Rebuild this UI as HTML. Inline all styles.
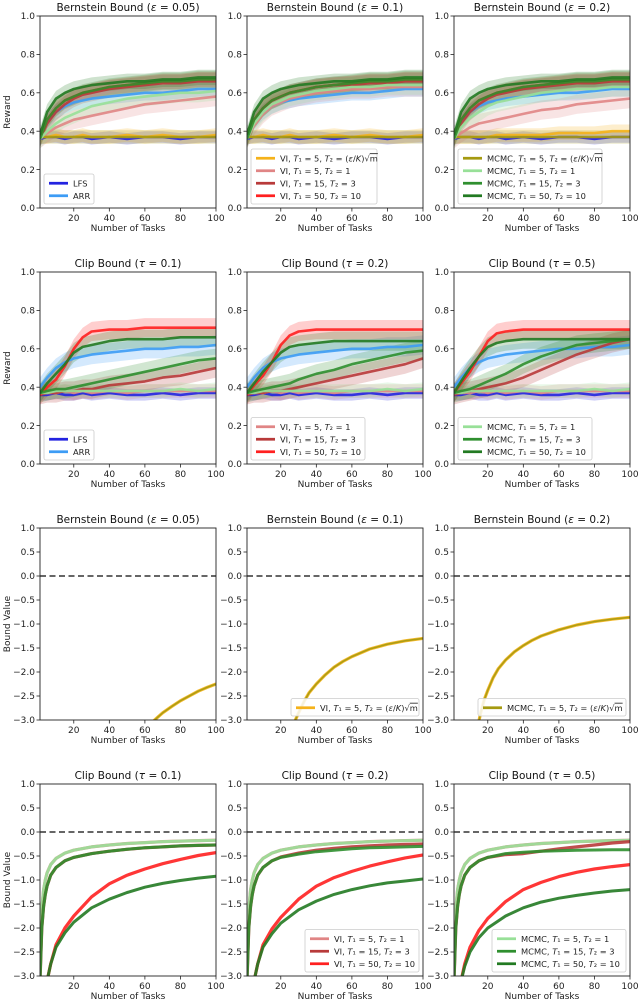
<!DOCTYPE html>
<html><head><meta charset="utf-8"><style>
html,body{margin:0;padding:0;background:#fff;width:640px;height:1005px;overflow:hidden}
svg{display:block;overflow:hidden;font-family:"DejaVu Sans","Liberation Sans",sans-serif}
</style></head><body>
<svg id="fig" width="640" height="1005" viewBox="0 0 640 1005" xmlns="http://www.w3.org/2000/svg"></svg>
<script>
// ---------- DATA ----------
const rewardX = [1,5,10,15,20,25,30,40,50,60,70,80,90,100];
const rewardTicks = [0,0.2,0.4,0.6,0.8,1.0];
const boundTicks = [-3,-2.5,-2,-1.5,-1,-0.5,0,0.5,1];
const xTicks = [20,40,60,80,100];
// Row 1: Bernstein reward
const b1_lfs  = [0.36,0.37,0.37,0.36,0.37,0.37,0.36,0.37,0.36,0.37,0.37,0.36,0.37,0.37];
const b1_arr  = [0.36,0.45,0.50,0.53,0.55,0.56,0.57,0.58,0.59,0.60,0.60,0.61,0.62,0.62];
const b1_vie  = [0.37,0.37,0.38,0.37,0.37,0.38,0.37,0.37,0.38,0.37,0.38,0.37,0.37,0.38];
const b1_vi5  = [0.36,0.39,0.42,0.44,0.46,0.47,0.48,0.50,0.52,0.54,0.55,0.56,0.57,0.58];
const b1_vi15 = [0.36,0.44,0.50,0.54,0.57,0.59,0.60,0.62,0.63,0.64,0.65,0.65,0.66,0.66];
const b1_vi50 = [0.36,0.46,0.52,0.56,0.58,0.60,0.61,0.63,0.64,0.65,0.66,0.66,0.67,0.67];
const b1_mce  = [0.37,0.37,0.37,0.37,0.37,0.37,0.37,0.37,0.37,0.37,0.37,0.37,0.37,0.37];
const b1_mc5  = [0.36,0.40,0.44,0.47,0.49,0.51,0.53,0.55,0.57,0.58,0.59,0.60,0.60,0.61];
const b1_mc15 = [0.36,0.46,0.52,0.56,0.58,0.60,0.61,0.63,0.64,0.65,0.66,0.66,0.67,0.67];
const b1_mc50 = [0.38,0.50,0.57,0.60,0.62,0.63,0.64,0.65,0.66,0.66,0.67,0.67,0.68,0.68];
const b2_vi5  = [0.36,0.43,0.49,0.53,0.55,0.57,0.58,0.60,0.61,0.62,0.62,0.63,0.63,0.63];
const b2_vi15 = [0.36,0.46,0.52,0.56,0.58,0.60,0.61,0.63,0.64,0.64,0.65,0.65,0.66,0.66];
const b2_mc5  = [0.36,0.44,0.50,0.54,0.56,0.58,0.59,0.61,0.62,0.63,0.63,0.64,0.64,0.64];
const b3_vie  = [0.37,0.37,0.37,0.37,0.37,0.38,0.38,0.38,0.38,0.39,0.39,0.39,0.40,0.40];
const b3_vi5  = [0.36,0.39,0.42,0.44,0.45,0.46,0.47,0.49,0.51,0.52,0.54,0.55,0.56,0.57];
const b3_mc5  = [0.36,0.42,0.47,0.50,0.53,0.55,0.56,0.58,0.60,0.61,0.62,0.62,0.63,0.63];
// Row 2: Clip reward
const c_lfs   = [0.36,0.36,0.37,0.36,0.36,0.37,0.36,0.37,0.36,0.36,0.37,0.36,0.37,0.37];
const c_arr   = [0.40,0.45,0.50,0.53,0.55,0.56,0.57,0.58,0.59,0.60,0.60,0.61,0.61,0.62];
const c_vi5   = [0.37,0.37,0.37,0.38,0.37,0.38,0.37,0.38,0.37,0.38,0.38,0.38,0.38,0.38];
const c_mc5   = [0.37,0.37,0.38,0.38,0.38,0.38,0.38,0.38,0.38,0.38,0.38,0.39,0.38,0.39];
const c1_vi15 = [0.36,0.37,0.37,0.38,0.38,0.39,0.39,0.41,0.42,0.43,0.45,0.46,0.48,0.50];
const c1_vi50 = [0.36,0.40,0.44,0.51,0.60,0.66,0.69,0.70,0.70,0.71,0.71,0.71,0.71,0.71];
const c1_mc15 = [0.37,0.38,0.39,0.39,0.40,0.41,0.42,0.44,0.46,0.48,0.50,0.52,0.54,0.55];
const c1_mc50 = [0.37,0.42,0.47,0.52,0.58,0.61,0.62,0.64,0.65,0.65,0.65,0.66,0.66,0.66];
const c2_vi15 = [0.36,0.37,0.37,0.38,0.38,0.39,0.40,0.42,0.44,0.46,0.48,0.50,0.52,0.55];
const c2_vi50 = [0.36,0.41,0.46,0.53,0.62,0.67,0.69,0.70,0.70,0.70,0.70,0.70,0.70,0.70];
const c2_mc15 = [0.37,0.38,0.39,0.40,0.41,0.42,0.44,0.47,0.49,0.52,0.54,0.56,0.58,0.59];
const c2_mc50 = [0.37,0.42,0.48,0.53,0.58,0.61,0.62,0.63,0.64,0.64,0.64,0.64,0.64,0.64];
const c3_vi15 = [0.36,0.37,0.38,0.39,0.40,0.41,0.42,0.45,0.49,0.53,0.57,0.60,0.63,0.65];
const c3_vi50 = [0.37,0.42,0.48,0.56,0.64,0.68,0.69,0.70,0.70,0.70,0.70,0.70,0.70,0.70];
const c3_mc15 = [0.37,0.38,0.39,0.41,0.43,0.45,0.47,0.52,0.56,0.59,0.62,0.63,0.64,0.65];
const c3_mc50 = [0.37,0.43,0.50,0.56,0.61,0.63,0.64,0.65,0.65,0.65,0.65,0.65,0.65,0.65];
// Row 3: Bernstein bound
const bb1_x = [64,67,70,75,80,85,90,95,100];
const bb1_y = [-3.05,-2.95,-2.85,-2.72,-2.6,-2.5,-2.4,-2.32,-2.25];
const bb2_x = [27,30,33,36,40,45,50,55,60,70,80,90,100];
const bb2_y = [-3.1,-2.85,-2.62,-2.43,-2.25,-2.06,-1.9,-1.78,-1.68,-1.52,-1.42,-1.35,-1.3];
const bb3_x = [14,16,18,20,23,26,30,35,40,45,50,60,70,80,90,100];
const bb3_y = [-3.2,-2.85,-2.58,-2.38,-2.12,-1.93,-1.75,-1.58,-1.45,-1.34,-1.25,-1.12,-1.02,-0.95,-0.9,-0.86];
// Row 4: Clip bound
const boundX = [1,2,3,4,5,7,10,15,20,30,40,50,60,70,80,90,100];
const cb_light = [-2.9,-1.6,-1.2,-1.0,-0.85,-0.68,-0.55,-0.44,-0.38,-0.31,-0.27,-0.24,-0.22,-0.20,-0.19,-0.18,-0.17];
const cb1_15 = [-3.1,-2.0,-1.55,-1.3,-1.12,-0.9,-0.74,-0.6,-0.53,-0.45,-0.4,-0.36,-0.33,-0.31,-0.29,-0.28,-0.27];
const cb1_r50 = [-6,-5,-4.2,-3.6,-3.1,-2.75,-2.35,-2.0,-1.75,-1.35,-1.08,-0.9,-0.77,-0.66,-0.57,-0.49,-0.43];
const cb1_g50 = [-6,-5,-4.2,-3.6,-3.1,-2.75,-2.4,-2.1,-1.88,-1.58,-1.4,-1.26,-1.15,-1.07,-1.01,-0.96,-0.92];
const cb2_vi15 = [-3.1,-2.0,-1.55,-1.3,-1.12,-0.9,-0.74,-0.6,-0.52,-0.44,-0.38,-0.34,-0.31,-0.29,-0.27,-0.26,-0.25];
const cb2_mc15 = [-3.1,-2.0,-1.55,-1.3,-1.12,-0.9,-0.74,-0.6,-0.53,-0.46,-0.41,-0.38,-0.35,-0.33,-0.32,-0.31,-0.30];
const cb2_r50 = [-6,-5,-4.2,-3.6,-3.1,-2.75,-2.35,-2.02,-1.78,-1.4,-1.13,-0.95,-0.82,-0.71,-0.62,-0.54,-0.48];
const cb2_g50 = [-6,-5,-4.2,-3.6,-3.1,-2.75,-2.4,-2.12,-1.9,-1.62,-1.44,-1.3,-1.2,-1.12,-1.06,-1.02,-0.98];
const cb3_vi15 = [-3.1,-2.0,-1.55,-1.3,-1.12,-0.9,-0.74,-0.6,-0.53,-0.47,-0.45,-0.4,-0.35,-0.31,-0.27,-0.23,-0.20];
const cb3_mc15 = [-3.1,-2.0,-1.55,-1.3,-1.12,-0.9,-0.74,-0.6,-0.53,-0.45,-0.42,-0.40,-0.39,-0.38,-0.375,-0.37,-0.37];
const cb3_r50 = [-6,-5,-4.2,-3.6,-3.1,-2.75,-2.4,-2.05,-1.8,-1.45,-1.2,-1.05,-0.93,-0.84,-0.77,-0.72,-0.68];
const cb3_g50 = [-6,-5,-4.2,-3.6,-3.1,-2.8,-2.5,-2.2,-2.0,-1.75,-1.58,-1.46,-1.38,-1.32,-1.27,-1.23,-1.2];

// ---------- STYLE ----------
const COL = {lfs:'#2323e0',arr:'#3d9cf5',vie:'#f5b21a',vi5:'#e08585',vi15:'#b83a3a',vi50:'#ff2020',mce:'#a59a10',mc5:'#98e098',mc15:'#2f8f2f',mc50:'#227a22'};
const T = (n)=>'<tspan font-style="italic">T</tspan>'+n;
const LAB = {
 lfs:'LFS', arr:'ARR',
 vie:'VI, '+T('₁')+' = 5, '+T('₂')+' = (<tspan font-style="italic">ε</tspan>/<tspan font-style="italic">K</tspan>)√<tspan text-decoration="overline">m</tspan>',
 vi5:'VI, '+T('₁')+' = 5, '+T('₂')+' = 1', vi15:'VI, '+T('₁')+' = 15, '+T('₂')+' = 3', vi50:'VI, '+T('₁')+' = 50, '+T('₂')+' = 10',
 mce:'MCMC, '+T('₁')+' = 5, '+T('₂')+' = (<tspan font-style="italic">ε</tspan>/<tspan font-style="italic">K</tspan>)√<tspan text-decoration="overline">m</tspan>',
 mc5:'MCMC, '+T('₁')+' = 5, '+T('₂')+' = 1', mc15:'MCMC, '+T('₁')+' = 15, '+T('₂')+' = 3', mc50:'MCMC, '+T('₁')+' = 50, '+T('₂')+' = 10'
};
const svg = document.getElementById('fig');
const NS='http://www.w3.org/2000/svg';
function mk(tag, attrs, parent){const e=document.createElementNS(NS,tag);for(const k in attrs)e.setAttribute(k,attrs[k]);(parent||svg).appendChild(e);return e;}
const colLeft=[40,247,454], AW=176, AH=192, rowTop=[16,272,528,784];
let clipId=0;

// trim a polyline to x-range where y >= ymin (interpolate crossing point)
function trimmed(xs,ys,ymin){
 const px=[],py=[];
 for(let i=0;i<xs.length;i++){
  if(ys[i]>=ymin){
   if(i>0 && ys[i-1]<ymin && px.length===0){
    const t=(ymin-ys[i-1])/(ys[i]-ys[i-1]);
    px.push(xs[i-1]+t*(xs[i]-xs[i-1]));py.push(ymin);
   }
   px.push(xs[i]);py.push(ys[i]);
  }
 }
 return [px,py];
}

function panel(r,c,opt){
 const x0=colLeft[c], y0=rowTop[r];
 const g=mk('g',{});
 
 
 const sx=v=>x0+(v-1)/99*AW;
 const sy=v=>y0+AH-(v-opt.ymin)/(opt.ymax-opt.ymin)*AH;
 const cid='clip'+(clipId++);
 const cp=mk('clipPath',{id:cid},g); mk('rect',{x:x0,y:y0,width:AW,height:AH},cp);
 const plot=mk('g',{'clip-path':'url(#'+cid+')'},g);
 
 
 if(opt.zero){const z=mk('line',{x1:x0,x2:x0+AW,y1:sy(0),y2:sy(0),stroke:'#333','stroke-width':1.5,'stroke-dasharray':'6,3.5'},plot);
  }
 opt.series.forEach(s=>{ if(!s.band) return;
  let d='';s.x.forEach((xv,i)=>{d+=(i?'L':'M')+sx(xv).toFixed(1)+','+sy(s.y[i]+s.band).toFixed(1);});
  for(let i=s.x.length-1;i>=0;i--) d+='L'+sx(s.x[i]).toFixed(1)+','+sy(s.y[i]-s.band).toFixed(1);
  const p=mk('path',{d:d+'Z',fill:COL[s.k],'fill-opacity':0.22,stroke:'none'},plot);
  
 });
 opt.series.forEach(s=>{
  const tr=trimmed(s.x,s.y,opt.ymin-0.05);
  let d='';tr[0].forEach((xv,i)=>{d+=(i?'L':'M')+sx(xv).toFixed(1)+','+sy(tr[1][i]).toFixed(1);});
  const p=mk('path',{d:d,fill:'none',stroke:COL[s.k],'stroke-width':s.w||2.6,'stroke-opacity':s.op||0.9,'stroke-linejoin':'round'},plot);
  
 });
 const fr=mk('rect',{x:x0,y:y0,width:AW,height:AH,fill:'none',stroke:'#222','stroke-width':0.9},g);
 
 xTicks.forEach(t=>{mk('line',{x1:sx(t),x2:sx(t),y1:y0+AH,y2:y0+AH+3.5,stroke:'#222','stroke-width':0.8},g);
  const tx=mk('text',{x:sx(t),y:y0+AH+13,'font-size':9,'text-anchor':'middle',fill:'#222'},g);tx.textContent=t;
  });
 opt.yt.forEach(t=>{mk('line',{x1:x0-3.5,x2:x0,y1:sy(t),y2:sy(t),stroke:'#222','stroke-width':0.8},g);
  const tx=mk('text',{x:x0-5,y:sy(t)+3.2,'font-size':9,'text-anchor':'end',fill:'#222'},g);
  tx.textContent=(t<0?'−':'')+Math.abs(t).toFixed(1);
  });
 const xl=mk('text',{x:x0+AW/2,y:y0+AH+23,'font-size':9,'text-anchor':'middle',fill:'#222'},g);xl.textContent='Number of Tasks';
 
 if(opt.ylabel){const yl=mk('text',{x:0,y:0,'font-size':9,'text-anchor':'middle',fill:'#222',transform:'translate(10,'+(y0+AH/2)+') rotate(-90)'},g);yl.textContent=opt.ylabel;
  }
 const ti=mk('text',{x:x0+AW/2,y:y0-5,'font-size':10.5,'text-anchor':'middle',fill:'#111'},g);ti.innerHTML=opt.title;
 
 if(opt.legend){
  const n=opt.legend.length, lh=12.5, w=opt.lw, h=n*lh+5;
  const lx=opt.lpos==='lr'?x0+AW-w-4:x0+4, ly=y0+AH-h-4;
  const lg=mk('g',{},g);
  mk('rect',{x:lx,y:ly,width:w,height:h,rx:2,fill:'#fff','fill-opacity':0.85,stroke:'#ccc','stroke-width':0.8},lg);
  opt.legend.forEach((k,i)=>{const yy=ly+3+lh*i+lh/2;
   const e=mk('g',{},lg);
   mk('line',{x1:lx+5,x2:lx+24,y1:yy,y2:yy,stroke:COL[k],'stroke-width':2.8},e);
   const t=mk('text',{x:lx+29,y:yy+3,'font-size':8.3,fill:'#222'},e);t.innerHTML=LAB[k];});
 }
}
const S=(k,y,band,x)=>({k:k,x:x||rewardX,y:y,band:band});
const RW={ymin:0,ymax:1,yt:rewardTicks};
const BD={ymin:-3,ymax:1,yt:boundTicks,zero:true};
const ttl=(a,sym,v)=>a+' (<tspan font-style="italic">'+sym+'</tspan> = '+v+')';
function row1(c,vie,vi5,vi15,mce,mc5,title,leg,lpos,lw){
 panel(0,c,Object.assign({title:title,ylabel:c===0?'Reward':null,legend:leg,lpos:lpos,lw:lw,series:[
  S('lfs',b1_lfs,0.03),S('arr',b1_arr,0.04),S('vie',vie,0.035),S('vi5',vi5,0.05),S('vi15',vi15,0.045),S('vi50',b1_vi50,0.04),
  S('mce',mce,0.035),S('mc5',mc5,0.05),S('mc15',b1_mc15,0.045),S('mc50',b1_mc50,0.04)]},RW));
}
row1(0,b1_vie,b1_vi5,b1_vi15,b1_mce,b1_mc5,ttl('Bernstein Bound','ε','0.05'),['lfs','arr'],'ll',50);
row1(1,b1_vie,b2_vi5,b2_vi15,b1_mce,b2_mc5,ttl('Bernstein Bound','ε','0.1'),['vie','vi5','vi15','vi50'],'ll',126);
row1(2,b3_vie,b3_vi5,b1_vi15,b1_mce,b3_mc5,ttl('Bernstein Bound','ε','0.2'),['mce','mc5','mc15','mc50'],'ll',144);
function row2(c,vi15,vi50,mc15,mc50,title,leg,lw){
 panel(1,c,Object.assign({title:title,ylabel:c===0?'Reward':null,legend:leg,lpos:'ll',lw:lw,series:[
  S('lfs',c_lfs,0.03),S('arr',c_arr,0.05),S('vi5',c_vi5,0.035),S('vi15',vi15,0.05),S('vi50',vi50,0.05),
  S('mc5',c_mc5,0.035),S('mc15',mc15,0.05),S('mc50',mc50,0.05)]},RW));
}
row2(0,c1_vi15,c1_vi50,c1_mc15,c1_mc50,ttl('Clip Bound','τ','0.1'),['lfs','arr'],50);
row2(1,c2_vi15,c2_vi50,c2_mc15,c2_mc50,ttl('Clip Bound','τ','0.2'),['vi5','vi15','vi50'],114);
row2(2,c3_vi15,c3_vi50,c3_mc15,c3_mc50,ttl('Clip Bound','τ','0.5'),['mc5','mc15','mc50'],134);
[[bb1_x,bb1_y,'0.05',null],[bb2_x,bb2_y,'0.1',['vie']],[bb3_x,bb3_y,'0.2',['mce']]].forEach((p,c)=>{
 panel(2,c,Object.assign({title:ttl('Bernstein Bound','ε',p[2]),ylabel:c===0?'Bound Value':null,legend:p[3],lpos:'lr',lw:c===1?128:148,series:[
  {k:'vie',x:p[0],y:p[1],w:3.2},{k:'mce',x:p[0],y:p[1],w:1.6,op:0.9}]},BD));
});
[[cb1_15,cb1_15,cb1_r50,cb1_g50,'0.1',null],[cb2_vi15,cb2_mc15,cb2_r50,cb2_g50,'0.2',['vi5','vi15','vi50']],[cb3_vi15,cb3_mc15,cb3_r50,cb3_g50,'0.5',['mc5','mc15','mc50']]].forEach((p,c)=>{
 panel(3,c,Object.assign({title:ttl('Clip Bound','τ',p[4]),ylabel:c===0?'Bound Value':null,legend:p[5],lpos:'lr',lw:c===1?114:134,series:[
  {k:'vi5',x:boundX,y:cb_light,w:3.2},{k:'mc5',x:boundX,y:cb_light,w:3},
  {k:'vi15',x:boundX,y:p[0],w:3.2},{k:'vi50',x:boundX,y:p[2],w:3.2},
  {k:'mc15',x:boundX,y:p[1],w:3},{k:'mc50',x:boundX,y:p[3],w:3}]},BD));
});
</script>
</body></html>
